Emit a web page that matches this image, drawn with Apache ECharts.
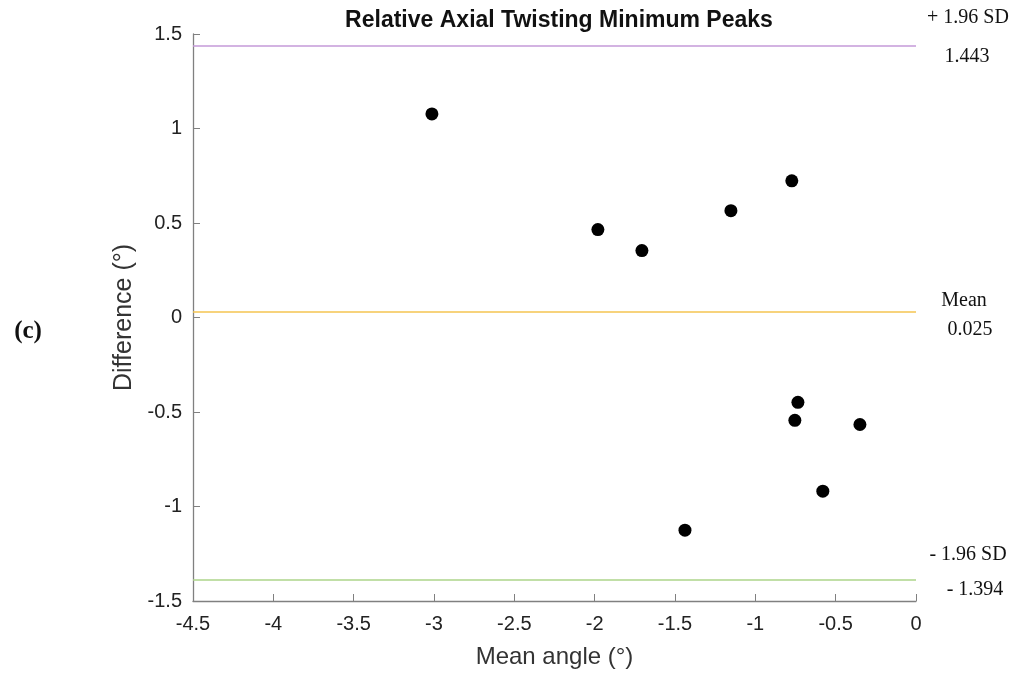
<!DOCTYPE html>
<html><head><meta charset="utf-8">
<script src="https://cdn.jsdelivr.net/npm/echarts@6/dist/echarts.min.js"></script>
<style>html,body{margin:0;padding:0;background:#fff}#c{width:1016px;height:674px}</style>
</head><body><div id="c"></div>
<script>
const meanAngle = [-3.013, -1.98, -1.706, -1.152, -0.773, -0.735, -0.754, -0.349, -0.580, -1.438];
const difference = [1.077, 0.465, 0.354, 0.565, 0.723, -0.449, -0.544, -0.566, -0.919, -1.125];
const upperLoA = 1.443;
const meanDiff = 0.025;
const lowerLoA = -1.394;
const refTop = ['+ 1.96 SD', 'Mean', '- 1.96 SD'];
const refBottom = ['1.443', '0.025', '- 1.394'];
const refValues = [upperLoA, meanDiff, lowerLoA];
const refColors = ['#c49ad8', '#f5c451', '#acd48a'];

const chart = echarts.init(document.getElementById('c'));
const axisCol = '#808080';
chart.setOption({
  animation: false,
  title: {text: 'Relative Axial Twisting Minimum Peaks', left: 554, top: 4, textAlign: 'center',
    textStyle: {fontFamily: 'Liberation Sans, Arial', fontWeight: 'bold', fontSize: 23, color: '#111'}},
  grid: {left: 193, right: 100, top: 34, bottom: 72},
  xAxis: {type: 'value', min: -4.5, max: 0, interval: 0.5,
    name: 'Mean angle (°)', nameLocation: 'middle', nameGap: 44,
    nameTextStyle: {fontFamily: 'Liberation Sans, Arial', fontSize: 24, color: '#333'},
    axisLine: {onZero: false, lineStyle: {color: axisCol, width: 1.3}},
    axisTick: {inside: true, length: 7, lineStyle: {color: axisCol}},
    axisLabel: {fontFamily: 'Liberation Sans, Arial', fontSize: 20, color: '#222', margin: 13},
    splitLine: {show: false}},
  yAxis: {type: 'value', min: -1.5, max: 1.5, interval: 0.5,
    name: 'Difference (°)', nameLocation: 'middle', nameGap: 52,
    nameTextStyle: {fontFamily: 'Liberation Sans, Arial', fontSize: 25, color: '#333'},
    axisLine: {show: true, onZero: false, lineStyle: {color: axisCol, width: 1.3}},
    axisTick: {show: true, inside: true, length: 7, lineStyle: {color: axisCol}},
    axisLabel: {fontFamily: 'Liberation Sans, Arial', fontSize: 20, color: '#222', margin: 11},
    splitLine: {show: false}},
  series: [{
    type: 'scatter', symbolSize: 13, itemStyle: {color: '#000', opacity: 1},
    data: meanAngle.map((x, i) => [x, difference[i]]),
    markLine: {silent: true, symbol: 'none', label: {show: false},
      data: refValues.map((v, i) => ({yAxis: v, lineStyle: {color: refColors[i], width: 1.6, type: 'solid'}}))}
  }]
});

const graphics = [];
const topX = [968, 964, 968];
const botX = [967, 970, 975];
refValues.forEach((v, i) => {
  const p = chart.convertToPixel({gridIndex: 0}, [0, v]);
  const offTop = i === 0 ? -27 : (i === 1 ? -12 : -26);
  const offBot = i === 0 ? 12 : (i === 1 ? 17 : 9);
  graphics.push({type: 'text', x: topX[i], y: p[1] + offTop, style: {text: refTop[i], textAlign: 'center', textVerticalAlign: 'middle',
    font: '20px "Liberation Serif", "Times New Roman", serif', fill: '#111'}});
  graphics.push({type: 'text', x: botX[i], y: p[1] + offBot, style: {text: refBottom[i], textAlign: 'center', textVerticalAlign: 'middle',
    font: '20px "Liberation Serif", "Times New Roman", serif', fill: '#111'}});
});
graphics.push({type: 'text', x: 28, y: 332, style: {text: '(c)', textAlign: 'center', textVerticalAlign: 'middle',
  font: 'bold 25px "Liberation Serif", "Times New Roman", serif', fill: '#111'}});
chart.setOption({graphic: graphics});
</script></body></html>
